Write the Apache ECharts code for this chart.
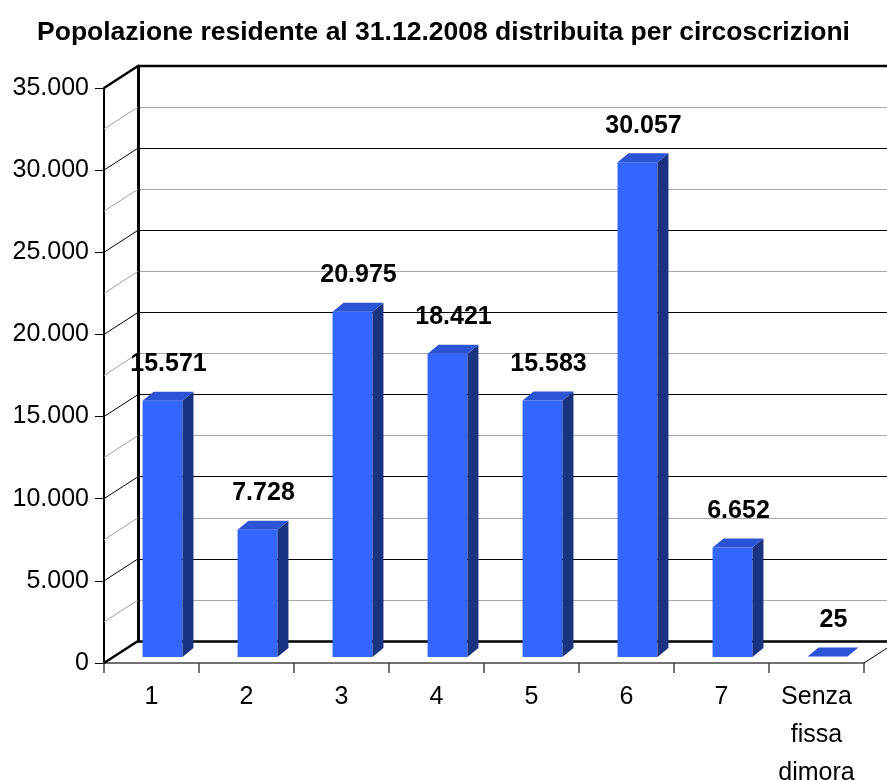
<!DOCTYPE html>
<html>
<head>
<meta charset="utf-8">
<script src="https://cdn.jsdelivr.net/npm/echarts@6/dist/echarts.min.js"></script>
<style>html,body{margin:0;padding:0;background:#fff}#c{width:887px;height:780px}</style>
</head>
<body>
<div id="c"></div>
<script>
// ---- data ----
const categories = ['1', '2', '3', '4', '5', '6', '7', 'Senza\nfissa\ndimora'];
const residents = [15571, 7728, 20975, 18421, 15583, 30057, 6652, 25];
const yTickValues = [0, 5000, 10000, 15000, 20000, 25000, 30000, 35000];
const wallLineValues = [0, 2500, 5000, 7500, 10000, 12500, 15000, 17500, 20000, 22500, 25000, 27500, 30000, 32500, 35000];
const titleText = 'Popolazione residente al 31.12.2008 distribuita per circoscrizioni';

// ---- style / layout ----
const FONT = "'Liberation Sans', Arial, sans-serif";
const YMAX = 35000;
const WALL_DX = 34, WALL_DY = -22;
const BAR_DX = 11, BAR_DY = -9;
const FRONT = '#3366ff', SIDE = '#1a3380', TOP = '#2b54d6';

function fmt(v) {
  return String(v).replace(/\B(?=(\d{3})+(?!\d))/g, '.');
}

const chart = echarts.init(document.getElementById('c'), null, {renderer: 'canvas'});

const option = {
  animation: false,
  backgroundColor: '#fff',
  title: {
    text: titleText,
    left: 'center',
    top: 14,
    textStyle: {fontFamily: FONT, fontSize: 26.5, fontWeight: 'bold', color: '#000'}
  },
  grid: [
    {left: 104, top: 88, width: 760, height: 575, containLabel: false, outerBoundsMode: 'none'},   // front plane (axes)
    {left: 138, top: 66, width: 760, height: 575, containLabel: false, outerBoundsMode: 'none'},   // back wall
    {left: 115, top: 81, width: 760, height: 576, containLabel: false, outerBoundsMode: 'none'}    // bar plane
  ],
  xAxis: [
    {
      gridIndex: 0, type: 'category', data: categories,
      axisLine: {show: true, lineStyle: {color: '#444', width: 1.5}},
      axisTick: {show: true, length: 10, interval: 0, lineStyle: {color: '#444', width: 1.5}},
      axisLabel: {interval: 0, fontFamily: FONT, fontSize: 25, color: '#000', margin: 15, lineHeight: 38}
    },
    {
      gridIndex: 1, type: 'category', data: categories,
      axisLine: {show: true, lineStyle: {color: '#000', width: 2.5}},
      axisTick: {show: false}, axisLabel: {show: false}
    },
    {
      gridIndex: 2, type: 'category', data: categories, show: false
    }
  ],
  yAxis: [
    {
      gridIndex: 0, type: 'value', min: 0, max: YMAX, interval: 5000,
      axisLine: {show: true, lineStyle: {color: '#000', width: 2}},
      axisTick: {show: true, length: 9, lineStyle: {color: '#000', width: 1}},
      splitLine: {show: false},
      axisLabel: {fontFamily: FONT, fontSize: 25, color: '#000', margin: 15, formatter: v => fmt(v)}
    },
    {
      gridIndex: 1, type: 'value', min: 0, max: YMAX, interval: 5000,
      axisLine: {show: true, lineStyle: {color: '#000', width: 3}},
      axisTick: {show: false}, axisLabel: {show: false},
      splitLine: {show: true, lineStyle: {color: '#000', width: 1}},
      minorTick: {show: false, splitNumber: 2},
      minorSplitLine: {show: true, lineStyle: {color: '#a8a8a8', width: 1}}
    },
    {
      gridIndex: 2, type: 'value', min: 0, max: YMAX, interval: 5000, show: false,
      splitLine: {show: false}
    }
  ],
  series: [
    {
      name: 'walls', type: 'custom', xAxisIndex: 0, yAxisIndex: 0, z: 3,
      data: wallLineValues.map(v => [0, v]),
      encode: {x: 0, y: 1},
      renderItem: function (params, api) {
        const cs = params.coordSys;
        const v = api.value(1);
        const y = api.coord([0, v])[1];
        const x0 = cs.x;
        const children = [];
        const major = v % 5000 === 0;
        let width = 1;
        let color = major ? '#000' : '#a0a0a0';
        if (v === YMAX || v === 0) { width = 2.5; color = '#000'; }
        children.push({type: 'line', shape: {x1: x0, y1: y, x2: x0 + WALL_DX, y2: y + WALL_DY},
          style: {stroke: color, lineWidth: width}});
        if (v === YMAX) {
          children.push({type: 'line', shape: {x1: x0 + WALL_DX, y1: y + WALL_DY, x2: x0 + WALL_DX + cs.width + 40, y2: y + WALL_DY},
            style: {stroke: '#000', lineWidth: 2.5}});
        }
        if (v === 0) {
          const xr = cs.x + cs.width;
          children.push({type: 'line', shape: {x1: xr, y1: y, x2: xr + WALL_DX, y2: y + WALL_DY},
            style: {stroke: '#000', lineWidth: 1}});
        }
        return {type: 'group', children: children};
      }
    },
    {
      name: 'Popolazione', type: 'custom', xAxisIndex: 2, yAxisIndex: 2, z: 5,
      data: residents.map((v, i) => [i, v]),
      encode: {x: 0, y: 1},
      renderItem: function (params, api) {
        const idx = api.value(0), v = api.value(1);
        const base = api.coord([idx, 0]);
        const topPt = api.coord([idx, v]);
        const bw = api.size([1, 0])[0] * 0.42;
        const xl = base[0] - bw / 2, xr = base[0] + bw / 2;
        const yb = base[1], yt = topPt[1];
        const children = [];
        if (yb - yt > 0.5) {
          children.push({type: 'rect', shape: {x: xl, y: yt, width: bw, height: yb - yt},
            style: {fill: FRONT}});
          children.push({type: 'polygon', shape: {points: [[xr, yt], [xr + BAR_DX, yt + BAR_DY], [xr + BAR_DX, yb + BAR_DY], [xr, yb]]},
            style: {fill: SIDE}});
        }
        children.push({type: 'polygon', shape: {points: [[xl, yt], [xr, yt], [xr + BAR_DX, yt + BAR_DY], [xl + BAR_DX, yt + BAR_DY]]},
          style: {fill: TOP}});
        children.push({type: 'text', style: {
          text: fmt(v), x: base[0] + 6, y: yt + BAR_DY - 15,
          align: 'center', verticalAlign: 'bottom',
          font: 'bold 25px ' + FONT, fill: '#000'
        }});
        return {type: 'group', children: children};
      }
    }
  ]
};
chart.setOption(option);
</script>
</body>
</html>
